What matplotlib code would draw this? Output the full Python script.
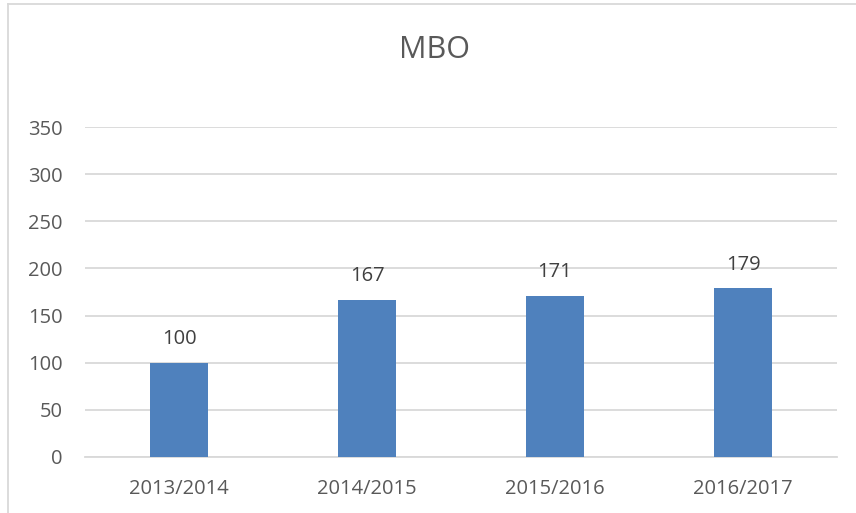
import matplotlib

matplotlib.use("Agg")

import matplotlib.pyplot as plt
from matplotlib.lines import Line2D

years = ["2013/2014", "2014/2015", "2015/2016", "2016/2017"]
values = [100, 167, 171, 179]
y_ticks = [0, 50, 100, 150, 200, 250, 300, 350]

BAR_COLOR = "#4F81BD"
GRID_COLOR = "#D9D9D9"
TEXT_COLOR = "#595959"

plt.rcParams["font.family"] = ["Open Sans", "DejaVu Sans"]


def main() -> None:
    fig = plt.figure(figsize=(8.56, 5.13), dpi=100)
    ax = fig.add_axes([0.0993, 0.1092, 0.8785, 0.6432])

    x = range(len(years))
    bars = ax.bar(x, values, width=0.31, color=BAR_COLOR, zorder=3)
    for bar, value in zip(bars, values):
        ax.annotate(
            str(value),
            (bar.get_x() + bar.get_width() / 2, bar.get_height()),
            xytext=(0, 17),
            textcoords="offset points",
            ha="center",
            va="center",
            fontsize=14.5,
            color="#404040",
        )

    ax.set_xlim(-0.5, len(years) - 0.5)
    ax.set_ylim(0, 350)
    ax.set_yticks(y_ticks)
    ax.set_xticks(list(x))
    ax.set_xticklabels(years)
    ax.tick_params(axis="both", length=0, labelsize=14.5, colors=TEXT_COLOR)
    ax.tick_params(axis="y", pad=16)
    ax.tick_params(axis="x", pad=16)
    ax.grid(axis="y", color=GRID_COLOR, linewidth=1.3, zorder=0)
    for side in ["top", "right", "left"]:
        ax.spines[side].set_visible(False)
    ax.spines["bottom"].set_color(GRID_COLOR)
    ax.spines["bottom"].set_linewidth(1.3)

    fig.text(0.508, 0.903, "MBO", ha="center", va="center", fontsize=22, color=TEXT_COLOR)

    # chart frame, partly cut off in the source
    fig.add_artist(Line2D([0.0093, 1.0], [0.992, 0.992], color=GRID_COLOR, linewidth=1.3))
    fig.add_artist(Line2D([0.0093, 0.0093], [0.0, 0.992], color=GRID_COLOR, linewidth=1.3))

    fig.savefig("out.png", dpi=100)
    plt.close(fig)


if __name__ == "__main__":
    main()
